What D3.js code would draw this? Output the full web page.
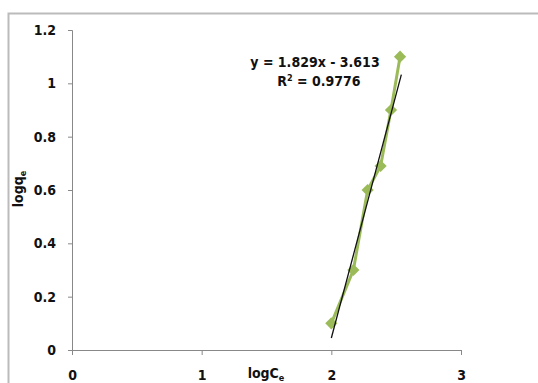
<!DOCTYPE html>
<html>
<head>
<meta charset="utf-8">
<script src="https://cdn.jsdelivr.net/npm/d3@7"></script>
<style>
  body { margin: 0; background: white; }
  text { font-family: "Liberation Sans Narrow", "DejaVu Sans Condensed", Arial, sans-serif; font-weight: bold; fill: #111; }
</style>
</head>
<body>
<div id="container"></div>
<script>
let w = 538;
let h = 383;

// DATA
let logCe = [2.0, 2.17, 2.28, 2.38, 2.46, 2.53];
let logQe = [0.10, 0.30, 0.60, 0.69, 0.90, 1.10];
let slope = 1.829;
let intercept = -3.613;
let xTicks = [0, 1, 2, 3];
let yTicks = [0, 0.2, 0.4, 0.6, 0.8, 1, 1.2];

let viz = d3.select("#container").append("svg")
    .attr("width", w)
    .attr("height", h)
    .style("display", "block")
;

// chart border
viz.append("rect")
    .attr("x", 8.5).attr("y", 13.5)
    .attr("width", 560).attr("height", 400)
    .attr("fill", "none")
    .attr("stroke", "#bbb")
    .attr("stroke-width", 2)
;

let xScale = d3.scaleLinear().domain([0, 3]).range([72, 461]);
let yScale = d3.scaleLinear().domain([0, 1.2]).range([350, 30]);

// Y AXIS
let yAxis = d3.axisLeft(yScale).tickValues(yTicks).tickSize(4).tickPadding(12)
    .tickFormat(d3.format("~g"));
let yG = viz.append("g").attr("transform", "translate(72,0)").call(yAxis);
yG.selectAll("path, line").attr("stroke", "#888");
yG.selectAll("text").style("font-size", "14px").attr("fill", "#111");

// X AXIS
let xAxis = d3.axisBottom(xScale).tickValues(xTicks).tickSize(5).tickPadding(15)
    .tickFormat(d3.format("d"));
let xG = viz.append("g").attr("transform", "translate(0,350)").call(xAxis);
xG.selectAll("path, line").attr("stroke", "#888");
xG.selectAll("text").style("font-size", "14px").attr("fill", "#111");

// AXIS TITLES
let yt = viz.append("text")
    .attr("transform", "translate(23,189) rotate(-90)")
    .attr("text-anchor", "middle")
    .style("font-size", "14px");
yt.append("tspan").text("logq");
yt.append("tspan").text("e").attr("dy", 3).style("font-size", "9px");

let xt = viz.append("text")
    .attr("x", 266).attr("y", 378)
    .attr("text-anchor", "middle")
    .style("font-size", "14px");
xt.append("tspan").text("logC");
xt.append("tspan").text("e").attr("dy", 3).style("font-size", "9px");

// DATA LINE
let points = logCe.map((d, i) => [d, logQe[i]]);
let lineMaker = d3.line().x(d => xScale(d[0])).y(d => yScale(d[1]));
viz.append("path")
    .datum(points)
    .attr("d", lineMaker)
    .attr("fill", "none")
    .attr("stroke", "#9bbb59")
    .attr("stroke-width", 3)
;

// MARKERS
let diamond = d3.symbol().type(d3.symbolDiamond2).size(95);
viz.selectAll(".pt").data(points).enter()
  .append("path")
    .attr("class", "pt")
    .attr("d", diamond)
    .attr("transform", d => "translate(" + xScale(d[0]) + "," + yScale(d[1]) + ")")
    .attr("fill", "#9bbb59")
;

// TRENDLINE
let tx = [2.0, 2.54];
viz.append("line")
    .attr("x1", xScale(tx[0])).attr("y1", yScale(slope * tx[0] + intercept))
    .attr("x2", xScale(tx[1])).attr("y2", yScale(slope * tx[1] + intercept))
    .attr("stroke", "#111")
    .attr("stroke-width", 1.3)
;

// EQUATION
viz.append("text")
    .attr("x", 315).attr("y", 67)
    .attr("text-anchor", "middle")
    .style("font-size", "14px")
    .text("y = 1.829x - 3.613");
let r2 = viz.append("text")
    .attr("x", 319).attr("y", 86)
    .attr("text-anchor", "middle")
    .style("font-size", "14px");
r2.append("tspan").text("R");
r2.append("tspan").text("2").attr("dy", -5).style("font-size", "9px");
r2.append("tspan").text(" = 0.9776").attr("dy", 5);
</script>
</body>
</html>
